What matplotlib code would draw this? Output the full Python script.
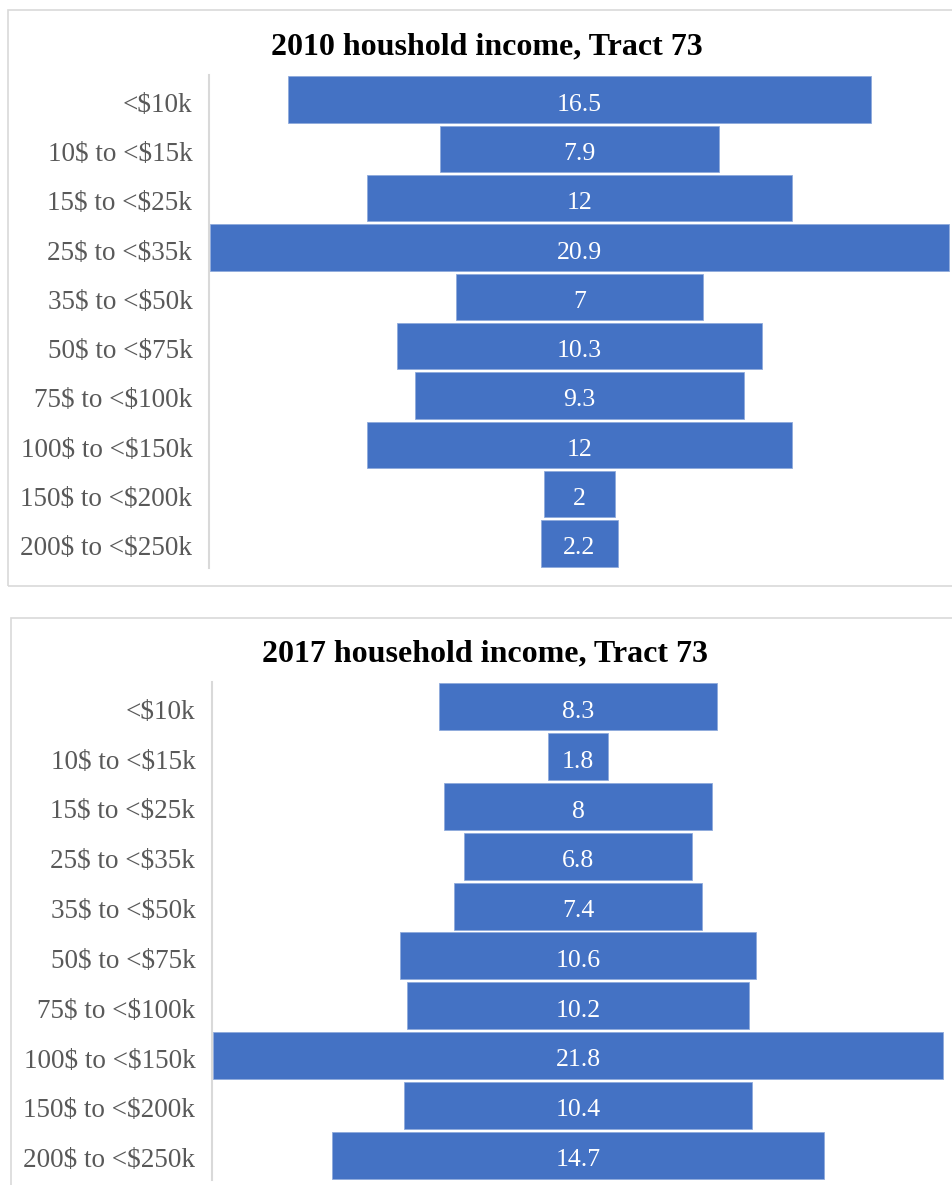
import matplotlib
matplotlib.use("Agg")
import matplotlib.pyplot as plt
import matplotlib.transforms as mtransforms
from matplotlib.patches import Rectangle

categories = ["<$10k", "10$ to <$15k", "15$ to <$25k", "25$ to <$35k", "35$ to <$50k",
              "50$ to <$75k", "75$ to <$100k", "100$ to <$150k", "150$ to <$200k", "200$ to <$250k"]
values_2010 = [16.5, 7.9, 12, 20.9, 7, 10.3, 9.3, 12, 2, 2.2]
values_2017 = [8.3, 1.8, 8, 6.8, 7.4, 10.6, 10.2, 21.8, 10.4, 14.7]
labels_2010 = ["16.5", "7.9", "12", "20.9", "7", "10.3", "9.3", "12", "2", "2.2"]
labels_2017 = ["8.3", "1.8", "8", "6.8", "7.4", "10.6", "10.2", "21.8", "10.4", "14.7"]
title_2010 = "2010 houshold income, Tract 73"
title_2017 = "2017 household income, Tract 73"

W, H = 952, 1185
plt.rcParams['font.family'] = ['Liberation Serif', 'DejaVu Serif']
plt.rcParams['text.parse_math'] = False
fig = plt.figure(figsize=(W / 100, H / 100), dpi=100)

BAR = "#4472C4"
GRID = "#D9D9D9"
TICK = "#595959"


def px_rect(x0, y0, x1, y1):
    return [x0 / W, 1 - y1 / H, (x1 - x0) / W, (y1 - y0) / H]


# panel borders
for (x0, y0, x1, y1) in [(8, 10, 960, 586), (11, 618, 960, 1200)]:
    fig.patches.append(Rectangle((x0 / W, 1 - y1 / H), (x1 - x0) / W, (y1 - y0) / H,
                                 transform=fig.transFigure, facecolor="none",
                                 edgecolor=GRID, linewidth=1.2))

down = mtransforms.ScaledTranslation(0, -2.5 / 100, fig.dpi_scale_trans)


def funnel(rect, values, labels, title, title_xy):
    ax = fig.add_axes(px_rect(*rect))
    n = len(values)
    ypos = list(range(n))
    lefts = [-v / 2 for v in values]
    ax.barh(ypos, values, left=lefts, height=0.94, color=BAR,
            edgecolor="#8FAADC", linewidth=0.6)
    for y, lab in zip(ypos, labels):
        ax.text(0, y, lab, ha="center", va="center_baseline", color="white", fontsize=18.5,
                transform=ax.transData + down)
    m = max(values) / 2
    ax.set_xlim(-m * 1.002, m * 1.002)
    ax.set_ylim(n - 0.5, -0.5)
    ax.set_yticks(ypos)
    ax.set_yticklabels(categories, fontsize=19.5, color=TICK, va="center_baseline")
    ax.tick_params(axis="y", length=0, pad=12)
    for lbl in ax.get_yticklabels():
        lbl.set_transform(lbl.get_transform() + down)
    ax.set_xticks([])
    for s in ["top", "right", "bottom"]:
        ax.spines[s].set_visible(False)
    ax.spines["left"].set_color(GRID)
    ax.spines["left"].set_linewidth(1.5)
    fig.text(title_xy[0] / W, 1 - title_xy[1] / H, title, ha="center", va="center_baseline",
             fontsize=23, fontweight="bold", color="black")
    return ax


funnel((209, 75, 950, 568), values_2010, labels_2010, title_2010, (487, 43))
funnel((212, 682, 944, 1180), values_2017, labels_2017, title_2017, (485, 650))

fig.savefig("out.png", dpi=100)
